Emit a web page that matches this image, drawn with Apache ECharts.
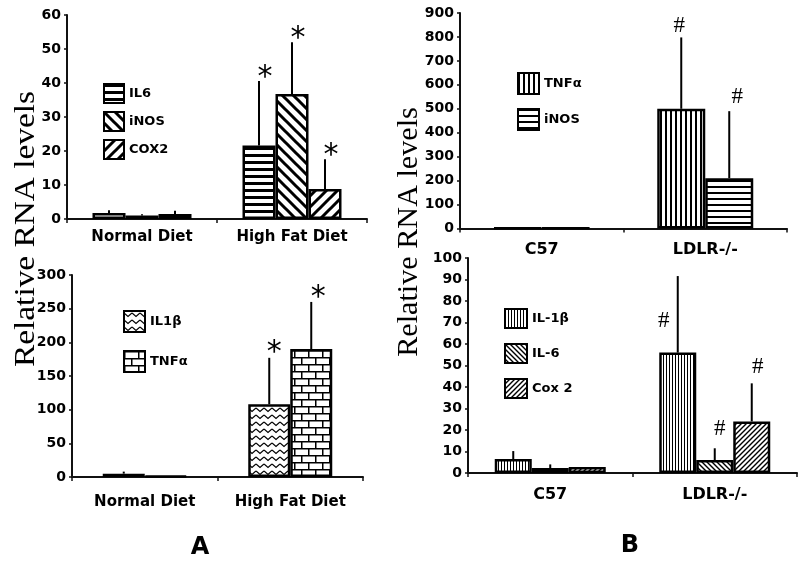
<!DOCTYPE html>
<html><head><meta charset="utf-8">
<script src="https://cdn.jsdelivr.net/npm/echarts@6/dist/echarts.min.js"></script>
<style>html,body{margin:0;padding:0;background:#fff}#c{width:800px;height:561px}</style>
</head><body><div id="c"></div>
<script>
// ---------- data ----------
const catsA = ['Normal Diet', 'High Fat Diet'];
const catsB = ['C57', 'LDLR-/-'];

const ticksA1 = [0, 10, 20, 30, 40, 50, 60];
const ticksA2 = [0, 50, 100, 150, 200, 250, 300];
const ticksB1 = [0, 100, 200, 300, 400, 500, 600, 700, 800, 900];
const ticksB2 = [0, 10, 20, 30, 40, 50, 60, 70, 80, 90, 100];

// Panel A, top
const a1IL6 = [1.8, 21.6],  a1IL6Err = [0.8, 19.0];
const a1iNOS = [1.0, 36.8], a1iNOSErr = [0.4, 15.2];
const a1COX2 = [1.5, 8.8],  a1COX2Err = [0.9, 8.8];
// Panel A, bottom
const a2IL1b = [5, 108],    a2IL1bErr = [3, 69];
const a2TNFa = [1.5, 190],  a2TNFaErr = [0, 70];
// Panel B, top
const b1TNFa = [2, 500],    b1TNFaErr = [0, 298];
const b1iNOS = [1.5, 210],  b1iNOSErr = [0, 280];
// Panel B, bottom
const b2IL1b = [6.5, 56],   b2IL1bErr = [3.7, 35.6];
const b2IL6 = [2.3, 6],     b2IL6Err = [1.7, 5.5];
const b2Cox2 = [2.8, 24],   b2Cox2Err = [0, 17.7];

const yTitle = 'Relative RNA levels';

// ---------- patterns ----------
function tile(w, h, draw) {
  const c = document.createElement('canvas'); c.width = w; c.height = h;
  const g = c.getContext('2d');
  g.fillStyle = '#fff'; g.fillRect(0, 0, w, h);
  g.fillStyle = '#000'; g.strokeStyle = '#000';
  draw(g, w, h);
  return { image: c, repeat: 'repeat' };
}
function diag(s, lw, forward) {
  return tile(s, s, (g) => {
    g.lineWidth = lw; g.beginPath();
    if (forward) {
      g.moveTo(0, s); g.lineTo(s, 0);
      g.moveTo(-s / 2, s / 2); g.lineTo(s / 2, -s / 2);
      g.moveTo(s / 2, 3 * s / 2); g.lineTo(3 * s / 2, s / 2);
    } else {
      g.moveTo(0, 0); g.lineTo(s, s);
      g.moveTo(-s / 2, s / 2); g.lineTo(s / 2, 3 * s / 2);
      g.moveTo(s / 2, -s / 2); g.lineTo(3 * s / 2, s / 2);
    }
    g.stroke();
  });
}
const PAT = {
  hThick: () => tile(8, 7, g => g.fillRect(0, 0, 8, 3)),
  hMed: () => tile(8, 6, g => g.fillRect(0, 0, 8, 2)),
  vMed: () => tile(5, 8, g => g.fillRect(0, 0, 2, 8)),
  vFine: () => tile(3, 8, g => g.fillRect(0, 0, 1, 8)),
  dBackWide: () => diag(11, 3, false),
  dFwdWide: () => diag(11, 3, true),
  dBackFine: () => diag(5, 1.4, false),
  dFwdFine: () => diag(5, 1.4, true),
  zigzag: () => tile(8, 7, g => { g.lineWidth = 1.2; g.beginPath(); g.moveTo(0, 2); g.lineTo(4, 5.5); g.lineTo(8, 2); g.stroke(); }),
  brick: () => tile(14, 14, g => {
    g.fillRect(0, 0, 14, 1.5); g.fillRect(0, 7, 14, 1.5);
    g.fillRect(0, 0, 1.5, 7); g.fillRect(7, 7, 1.5, 7);
  })
};

// ---------- panel configuration ----------
const FONT = 'DejaVu Sans';
const panels = [
  { id: 'A1', grid: { left: 67, top: 15, width: 300, height: 204 }, cats: catsA, ticks: ticksA1,
    barWidth: 33, labelMargin: 11, labelSize: 15,
    legend: { left: 98, top: 78, itemWidth: 20, itemHeight: 19, itemGap: 7 },
    sigFont: 'normal 30px "DejaVu Sans"',
    series: [
      { name: 'IL6', data: a1IL6, err: a1IL6Err, pat: 'hThick', sig: '*', sdx: 6, sdy: -3 },
      { name: 'iNOS', data: a1iNOS, err: a1iNOSErr, pat: 'dBackWide', sig: '*', sdx: 6, sdy: -3 },
      { name: 'COX2', data: a1COX2, err: a1COX2Err, pat: 'dFwdWide', sig: '*', sdx: 6, sdy: -3 }
    ] },
  { id: 'A2', grid: { left: 72, top: 275, width: 291, height: 202 }, cats: catsA, ticks: ticksA2,
    barWidth: 42, labelMargin: 18, labelSize: 15,
    legend: { left: 118, top: 305, itemWidth: 21, itemHeight: 21, itemGap: 17 },
    sigFont: 'normal 30px "DejaVu Sans"',
    series: [
      { name: 'IL1β', data: a2IL1b, err: a2IL1bErr, pat: 'zigzag', sig: '*', sdx: 5, sdy: -5 },
      { name: 'TNFα', data: a2TNFa, err: a2TNFaErr, pat: 'brick', sig: '*', sdx: 7, sdy: -4 }
    ] },
  { id: 'B1', grid: { left: 460, top: 13, width: 327, height: 215.5 }, cats: catsB, ticks: ticksB1,
    barWidth: 48, labelMargin: 13, labelSize: 16,
    legend: { left: 512, top: 67, itemWidth: 21, itemHeight: 21, itemGap: 13 },
    sigFont: 'normal 23px "Liberation Serif"',
    series: [
      { name: 'TNFα', data: b1TNFa, err: b1TNFaErr, pat: 'vMed', sig: '#', sdx: -2, sdy: -11 },
      { name: 'iNOS', data: b1iNOS, err: b1iNOSErr, pat: 'hMed', sig: '#', sdx: 8, sdy: -14 }
    ] },
  { id: 'B2', grid: { left: 468, top: 258, width: 329, height: 215 }, cats: catsB, ticks: ticksB2,
    barWidth: 37, labelMargin: 14, labelSize: 16,
    legend: { left: 499, top: 303, itemWidth: 22, itemHeight: 19, itemGap: 14 },
    sigFont: 'normal 23px "Liberation Serif"',
    series: [
      { name: 'IL-1β', data: b2IL1b, err: b2IL1bErr, pat: 'vFine', sig: '#', sdx: -14, sdy: 45 },
      { name: 'IL-6', data: b2IL6, err: b2IL6Err, pat: 'dBackFine', sig: '#', sdx: 5, sdy: -19 },
      { name: 'Cox 2', data: b2Cox2, err: b2Cox2Err, pat: 'dFwdFine', sig: '#', sdx: 6, sdy: -16 }
    ] }
];

// ---------- build option ----------
const option = { animation: false, backgroundColor: '#fff',
  grid: [], xAxis: [], yAxis: [], series: [], legend: [], graphic: [] };

panels.forEach((p, pi) => {
  option.grid.push(Object.assign({ containLabel: false }, p.grid));
  option.xAxis.push({
    type: 'category', gridIndex: pi, data: p.cats,
    axisLine: { lineStyle: { color: '#111', width: 2 } },
    axisTick: { show: true, length: 4, lineStyle: { color: '#111', width: 1.5 } },
    axisLabel: { margin: p.labelMargin, color: '#000', fontFamily: FONT, fontWeight: 'bold', fontSize: p.labelSize },
    splitLine: { show: false }
  });
  const t = p.ticks;
  option.yAxis.push({
    type: 'value', gridIndex: pi, min: t[0], max: t[t.length - 1], interval: t[1] - t[0],
    axisLine: { show: true, lineStyle: { color: '#111', width: 2 } },
    axisTick: { show: true, length: 3, lineStyle: { color: '#111', width: 1.5 } },
    axisLabel: { margin: 6, color: '#000', fontFamily: FONT, fontWeight: 'bold', fontSize: 14 },
    splitLine: { show: false }
  });
  const names = [];
  p.series.forEach((s) => {
    const nm = p.id + ':' + s.name;
    names.push(nm);
    option.series.push({
      type: 'bar', name: nm, xAxisIndex: pi, yAxisIndex: pi, data: s.data,
      barWidth: p.barWidth, barGap: '0%',
      itemStyle: { color: PAT[s.pat](), borderColor: '#000', borderWidth: 2.5 }
    });
  });
  option.legend.push(Object.assign({
    orient: 'vertical', data: names, selectedMode: false, icon: 'rect',
    formatter: (n) => n.split(':')[1],
    textStyle: { color: '#000', fontFamily: FONT, fontWeight: 'bold', fontSize: 13 }
  }, p.legend));

  const n = p.series.length;
  const errData = [];
  p.series.forEach((s, si) => {
    s.data.forEach((v, ci) => errData.push([ci, v, v + s.err[ci], si]));
  });
  option.series.push({
    type: 'custom', xAxisIndex: pi, yAxisIndex: pi, silent: true, z: 5,
    encode: { x: 0, y: 1 }, data: errData,
    renderItem: function (params, api) {
      const ci = api.value(0), v = api.value(1), top = api.value(2), si = api.value(3);
      const s = p.series[si];
      const off = (si - (n - 1) / 2) * p.barWidth;
      const p0 = api.coord([ci, v]);
      const p1 = api.coord([ci, top]);
      const x = p0[0] + off;
      const children = [];
      if (top > v) {
        children.push({ type: 'line', shape: { x1: x, y1: p0[1], x2: x, y2: p1[1] },
          style: { stroke: '#000', lineWidth: 2 } });
      }
      if (ci === 1 && s.sig) {
        children.push({ type: 'text', x: x + s.sdx, y: p1[1] + s.sdy,
          style: { text: s.sig, font: p.sigFont, fill: '#000', align: 'center', verticalAlign: 'middle' } });
      }
      return { type: 'group', children };
    }
  });
});

option.graphic.push(
  { type: 'text', x: 26, y: 229, rotation: Math.PI / 2, scaleX: 1.15,
    style: { text: yTitle, font: 'normal 29px "Liberation Serif"', fill: '#000', align: 'center', verticalAlign: 'middle' } },
  { type: 'text', x: 409, y: 232, rotation: Math.PI / 2, scaleX: 1.04,
    style: { text: yTitle, font: 'normal 29px "Liberation Serif"', fill: '#000', align: 'center', verticalAlign: 'middle' } },
  { type: 'text', x: 200, y: 548,
    style: { text: 'A', font: 'bold 24px "DejaVu Sans"', fill: '#000', align: 'center', verticalAlign: 'middle' } },
  { type: 'text', x: 630, y: 546,
    style: { text: 'B', font: 'bold 24px "DejaVu Sans"', fill: '#000', align: 'center', verticalAlign: 'middle' } }
);

const chart = echarts.init(document.getElementById('c'), null, { renderer: 'canvas' });
chart.setOption(option);
</script>
</body></html>
